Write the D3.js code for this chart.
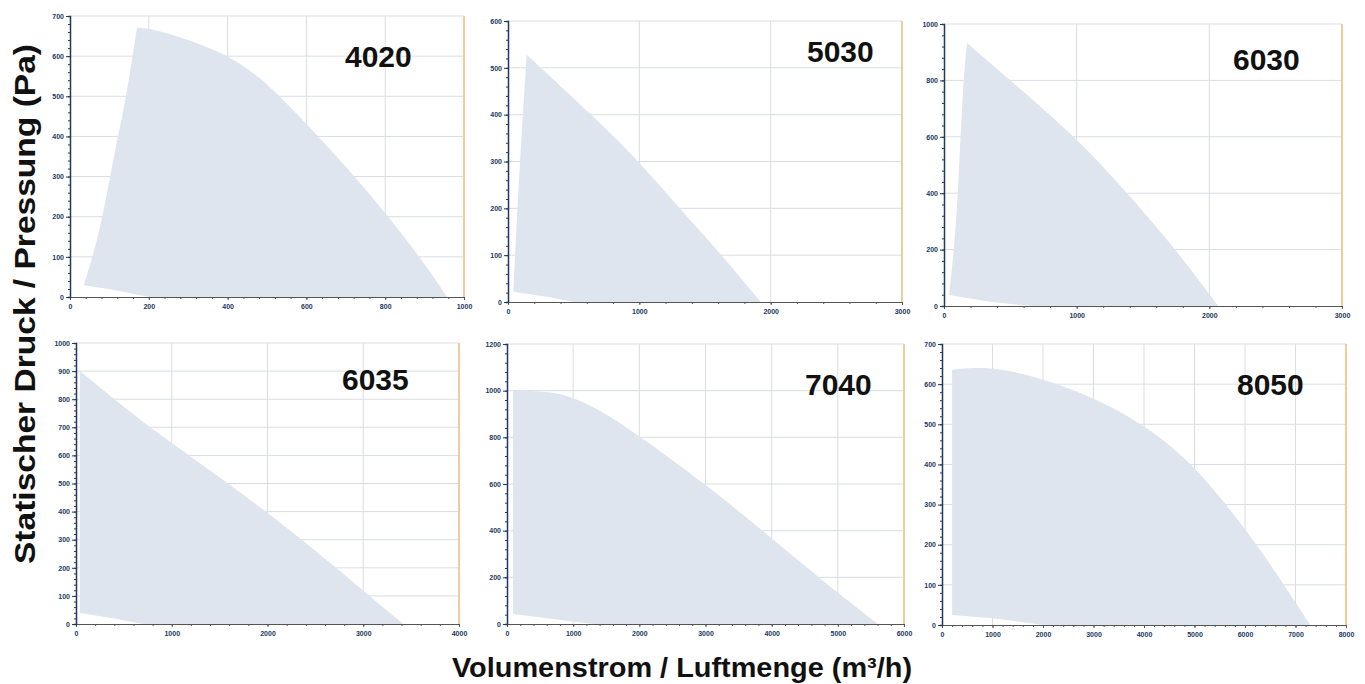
<!DOCTYPE html>
<html>
<head>
<meta charset="utf-8">
<script src="https://cdn.jsdelivr.net/npm/d3@7"></script>
<style>
  body { margin: 0; background: #fff; }
  svg { display: block; font-family: "Liberation Sans", Arial, sans-serif; }
</style>
</head>
<body>
<svg id="chart" width="1365" height="684"></svg>
<script>
// fan models
const models = ["4020", "5030", "6030", "6035", "7040", "8050"];
// axis maxima and tick steps
const xMax = [1000, 3000, 3000, 4000, 6000, 8000];
const xStep = [200, 1000, 1000, 1000, 1000, 1000];
const yMax = [700, 600, 1000, 1000, 1200, 700];
const yStep = [100, 100, 200, 100, 200, 100];

// left edge of the working range [m3/h, Pa], bottom to top corner
const edge4020 = [[35, 29], [76, 160], [114, 367], [142, 491], [170, 671]];
const edge5030 = [[41, 22], [53, 100], [91, 300], [142, 528]];
const edge6030 = [[38, 39], [76, 200], [106, 400], [144, 800], [174, 933]];
const edge6035 = [[42, 39], [42, 900]];
const edge7040 = [[90, 43], [90, 1000]];
const edge8050 = [[200, 25], [200, 636]];

// fan curve, top corner to zero pressure
const curve4020 = [[170, 671], [210, 668], [300, 642], [400, 603], [470, 556], [525, 508], [626, 405], [723, 300], [808, 200], [888, 100], [957, 0]];
const curve5030 = [[142, 528], [637, 400], [1000, 300], [1303, 200], [1630, 100], [1924, 0]];
const curve6030 = [[174, 933], [500, 800], [992, 600], [1384, 400], [1750, 200], [2066, 0]];
const curve6035 = [[42, 900], [400, 800], [771, 700], [1000, 645], [2000, 400], [2719, 200], [3063, 100], [3420, 0]];
const curve7040 = [[90, 1000], [620, 998], [1000, 973], [1500, 903], [2000, 805], [3000, 600], [4000, 368], [4500, 250], [5000, 133], [5604, 0]];
const curve8050 = [[200, 636], [1000, 645], [2000, 613], [3000, 567], [4000, 500], [5000, 400], [6000, 240], [6500, 152], [7000, 56], [7290, 0]];

// lower boundary, left to right
const lower4020 = [[35, 29], [110, 18], [175, 5], [200, 0]];
const lower5030 = [[41, 22], [320, 10], [500, 0]];
const lower6030 = [[38, 39], [348, 15], [650, 0]];
const lower6035 = [[42, 39], [400, 20], [700, 0]];
const lower7040 = [[90, 43], [600, 25], [1300, 0]];
const lower8050 = [[200, 25], [1000, 17], [2000, 0]];

const edges = [edge4020, edge5030, edge6030, edge6035, edge7040, edge8050];
const curves = [curve4020, curve5030, curve6030, curve6035, curve7040, curve8050];
const lowers = [lower4020, lower5030, lower6030, lower6035, lower7040, lower8050];

// plot boxes in page pixels
const boxes = [
  {x0: 70, x1: 464, y0: 16, y1: 297, tx: 345, ty: 67},
  {x0: 508, x1: 902, y0: 21, y1: 302, tx: 807, ty: 62},
  {x0: 944, x1: 1342, y0: 24, y1: 306, tx: 1233, ty: 70},
  {x0: 76, x1: 459, y0: 343, y1: 624, tx: 342, ty: 390},
  {x0: 507, x1: 904, y0: 344, y1: 624, tx: 805, ty: 395},
  {x0: 942, x1: 1346, y0: 344, y1: 625, tx: 1237, ty: 395}
];

const svg = d3.select("#chart");
const axisColor = "#22385e";

models.forEach((m, i) => {
  const b = boxes[i];
  const x = d3.scaleLinear().domain([0, xMax[i]]).range([b.x0, b.x1]);
  const y = d3.scaleLinear().domain([0, yMax[i]]).range([b.y1, b.y0]);
  const xt = d3.range(0, xMax[i] + 1, xStep[i]);
  const yt = d3.range(0, yMax[i] + 1, yStep[i]);
  const xm = d3.range(0, xMax[i] + 1, xStep[i] / 5);
  const ym = d3.range(0, yMax[i] + 1, yStep[i] / 5);
  const g = svg.append("g");

  // grid
  g.append("g").selectAll("line").data(xt.slice(1)).join("line")
    .attr("x1", d => x(d)).attr("x2", d => x(d))
    .attr("y1", b.y0).attr("y2", b.y1)
    .attr("stroke", "#d9dde3").attr("stroke-width", 1);
  g.append("g").selectAll("line").data(yt.slice(1)).join("line")
    .attr("x1", b.x0).attr("x2", b.x1)
    .attr("y1", d => y(d)).attr("y2", d => y(d))
    .attr("stroke", "#d9dde3").attr("stroke-width", 1);

  // working range area: left edge, fan curve, back along the axis, lower edge
  const lin = d3.line().x(d => x(d[0])).y(d => y(d[1]));
  const smooth = d3.line().x(d => x(d[0])).y(d => y(d[1])).curve(d3.curveBasis);
  const c = curves[i];
  const back = [[c[c.length - 1][0], 0]].concat(lowers[i].slice().reverse());
  const d = smooth(edges[i]) + smooth(c).replace(/^M/, "L") + lin(back).replace(/^M/, "L") + "Z";
  g.append("path").attr("d", d).attr("fill", "#dfe5ee");

  // orange secondary axis
  g.append("line")
    .attr("x1", b.x1).attr("x2", b.x1).attr("y1", b.y0).attr("y2", b.y1)
    .attr("stroke", "#f3c27e").attr("stroke-width", 1.5);

  // axes
  const ax = g.append("g").attr("transform", `translate(0,${b.y1})`)
    .call(d3.axisBottom(x).tickValues(xm).tickSize(2).tickFormat(""));
  ax.select(".domain").attr("stroke", "#555");
  ax.selectAll(".tick line").attr("stroke", "#555");
  const axM = g.append("g").attr("transform", `translate(0,${b.y1})`)
    .call(d3.axisBottom(x).tickValues(xt).tickSize(3).tickPadding(4).tickFormat(d3.format("d")));
  axM.select(".domain").remove();
  axM.selectAll(".tick line").attr("stroke", "#555");
  axM.selectAll("text").attr("font-size", 7).attr("font-weight", "bold").attr("fill", axisColor);

  const ay = g.append("g").attr("transform", `translate(${b.x0},0)`)
    .call(d3.axisLeft(y).tickValues(ym).tickSize(2).tickFormat(""));
  ay.select(".domain").attr("stroke", axisColor).attr("stroke-width", 1.5);
  ay.selectAll(".tick line").attr("stroke", axisColor);
  const ayM = g.append("g").attr("transform", `translate(${b.x0},0)`)
    .call(d3.axisLeft(y).tickValues(yt).tickSize(4).tickPadding(2).tickFormat(d3.format("d")));
  ayM.select(".domain").remove();
  ayM.selectAll(".tick line").attr("stroke", axisColor);
  ayM.selectAll("text").attr("font-size", 7).attr("font-weight", "bold").attr("fill", axisColor);

  // model label
  g.append("text")
    .attr("x", b.tx).attr("y", b.ty)
    .attr("font-size", 30).attr("font-weight", "bold").attr("fill", "#111")
    .text(m);
});

svg.append("text")
  .attr("transform", "translate(35,304) rotate(-90)")
  .attr("text-anchor", "middle")
  .attr("font-size", 30).attr("font-weight", "bold").attr("fill", "#111")
  .attr("textLength", 520).attr("lengthAdjust", "spacingAndGlyphs")
  .text("Statischer Druck / Pressung (Pa)");

svg.append("text")
  .attr("x", 682).attr("y", 677)
  .attr("text-anchor", "middle")
  .attr("font-size", 28).attr("font-weight", "bold").attr("fill", "#111")
  .attr("textLength", 460).attr("lengthAdjust", "spacingAndGlyphs")
  .text("Volumenstrom / Luftmenge (m³/h)");
</script>
</body>
</html>
